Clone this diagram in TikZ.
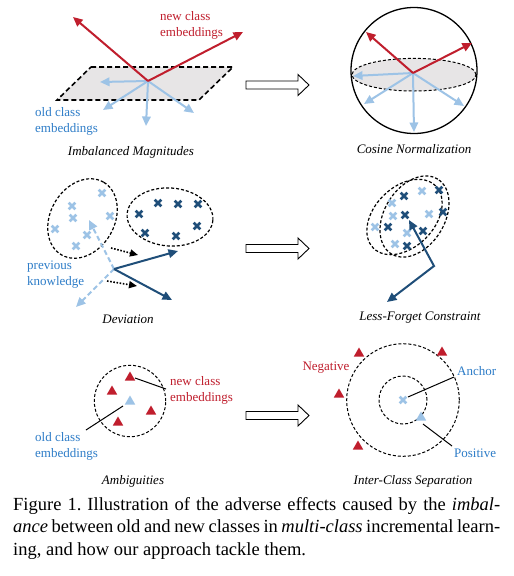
\documentclass[tikz,border=0pt]{standalone}
\usepackage{fontspec}
\setmainfont{Liberation Serif}
\usetikzlibrary{arrows.meta,shapes.geometric}
\definecolor{cred}{RGB}{192,30,45}
\definecolor{lblue}{RGB}{157,195,230}
\definecolor{tblue}{RGB}{46,125,200}
\definecolor{dblue}{RGB}{31,78,121}
\definecolor{pgray}{RGB}{231,229,230}
\tikzset{
  lbl/.style={font=\fontsize{13}{16}\selectfont, align=left, inner sep=0pt},
  ttl/.style={font=\fontsize{13}{16}\selectfont\itshape, inner sep=0pt},
  vec/.style={line width=2pt, -{Triangle[length=9.5pt,width=8.5pt]}},
  dvec/.style={line width=2pt, dash pattern=on 5pt off 3pt, -{Triangle[length=9.5pt,width=8.5pt]}},
  dotvec/.style={line width=1.6pt, dash pattern=on 1.6pt off 1.6pt, -{Triangle[length=8pt,width=7pt]}},
  dashbox/.style={dash pattern=on 3pt off 2pt, line width=1pt},
  tri/.style={regular polygon, regular polygon sides=3, minimum size=12pt, inner sep=0pt, draw=none},
  hollow/.style={draw=black, fill=white, line width=0.9pt},
  xx/.pic={\draw[line width=2.8pt] (-3.3pt,-3.3pt)--(3.3pt,3.3pt) (-3.3pt,3.3pt)--(3.3pt,-3.3pt);}
}
\begin{document}
\begin{tikzpicture}[x=1pt,y=-1pt]
\useasboundingbox (0,0) rectangle (514,576);
\fill[white] (0,0) rectangle (514,576);

% ---------- Panel 1 left: Imbalanced Magnitudes ----------
\filldraw[fill=pgray, line width=1.6pt, dash pattern=on 5pt off 3pt] (91,67) -- (233,67) -- (199,100) -- (57,100) -- cycle;
\coordinate (o1) at (148,81);
\coordinate (b1a) at (100,82);
\coordinate (b1b) at (103,110);
\coordinate (b1c) at (146,126);
\coordinate (b1d) at (194,113);
\coordinate (r1a) at (73,17);
\coordinate (r1b) at (243,32);
\foreach \t in {b1a,b1b,b1c,b1d} \draw[vec, lblue] (o1) -- (\t);
\foreach \t in {r1a,r1b} \draw[vec, cred] (o1) -- (\t);
\node[lbl, text=cred, anchor=west] (newA) at (160,25) {new class\\embeddings};
\node[lbl, text=tblue, anchor=west] (oldA) at (35,121) {old class\\embeddings};
\node[ttl] (t1) at (131,152) {Imbalanced Magnitudes};

% ---------- Panel 1 right: Cosine Normalization ----------
\filldraw[fill=pgray, dashbox] (414,74.7) ellipse [x radius=62pt, y radius=16.3pt];
\draw[line width=1.3pt] (414,70.5) circle [radius=63pt];
\coordinate (o2) at (413,73);
\coordinate (b2a) at (353,76);
\coordinate (b2b) at (364,104);
\coordinate (b2c) at (414,132);
\coordinate (b2d) at (464,106);
\coordinate (r2a) at (366,32);
\coordinate (r2b) at (472,43);
\foreach \t in {b2a,b2b,b2c,b2d} \draw[vec, lblue] (o2) -- (\t);
\foreach \t in {r2a,r2b} \draw[vec, cred] (o2) -- (\t);
\node[ttl] (t2) at (414,149) {Cosine Normalization};

% ---------- hollow arrows ----------
\foreach \c in {85,248.5,415.5}
  \draw[hollow] (246,\c-4) -- (298,\c-4) -- (298,\c-10.5) -- (309,\c) -- (298,\c+10.5) -- (298,\c+4) -- (246,\c+4) -- cycle;

% ---------- Panel 2 left: Deviation ----------
\draw[dashbox, line width=1.2pt, rotate around={60:(82.5,218.5)}] (82.5,218.5) ellipse [x radius=42pt, y radius=32pt];
\draw[dashbox, line width=1.2pt, rotate around={-4:(170,217)}] (170,217) ellipse [x radius=43pt, y radius=29pt];
\foreach \p in {(72,206),(102,193),(73,218),(110,216),(55,229),(87,235),(76,246)}
  \pic[lblue] at \p {xx};
\foreach \p in {(158,203),(178,204),(198,204),(139,214),(197,226),(145,233),(176,236)}
  \pic[dblue] at \p {xx};
\coordinate (o3) at (114,269);
\coordinate (l3a) at (89,220);
\coordinate (l3b) at (76,307);
\coordinate (d3a) at (178,251);
\coordinate (d3b) at (172,300);
\draw[dvec, lblue] (o3) -- (l3a);
\draw[dvec, lblue] (o3) -- (l3b);
\draw[vec, dblue] (o3) -- (d3a);
\draw[vec, dblue] (o3) -- (d3b);
\coordinate (p1s) at (111,248); \coordinate (p1e) at (138,255);
\coordinate (p2s) at (107,281); \coordinate (p2e) at (137,286);
\draw[dotvec] (p1s) -- (p1e);
\draw[dotvec] (p2s) -- (p2e);
\node[lbl, text=tblue, anchor=west] (prev) at (27,274.5) {previous\\knowledge};
\node[ttl] (t3) at (128,319) {Deviation};

% ---------- Panel 2 right: Less-Forget Constraint ----------
\draw[dashbox, line width=1.2pt, rotate around={45:(404.5,217)}] (404.5,217) ellipse [x radius=44pt, y radius=30pt];
\draw[dashbox, line width=1.2pt, rotate around={58:(414.5,216.5)}] (414.5,216.5) ellipse [x radius=44pt, y radius=30pt];
\foreach \p in {(422,191),(392,203),(393,216),(429,214),(375,227),(407,233),(395,244)}
  \pic[lblue] at \p {xx};
\foreach \p in {(439,190),(404,196),(443,212),(388,227),(423,231),(407,246)}
  \pic[dblue] at \p {xx};
\pic[dblue] at (405,215) {xx};
\coordinate (lfa) at (409,220);
\coordinate (lfm) at (434,266);
\coordinate (lfb) at (387,302);
\draw[dblue, line width=2pt, {Triangle[length=9.5pt,width=8.5pt]}-{Triangle[length=9.5pt,width=8.5pt]}] (lfa) -- (lfm) -- (lfb);
\node[ttl] (t4) at (420,318) {Less-Forget Constraint};

% ---------- Panel 3 left: Ambiguities ----------
\draw[dashbox] (130,401) circle [radius=35.7pt];
\node[tri, fill=cred] (ta1) at (130,377.5) {};
\node[tri, fill=cred] (ta2) at (112,391.5) {};
\node[tri, fill=cred] (ta3) at (151,411.5) {};
\node[tri, fill=cred] (ta4) at (118,422.5) {};
\node[tri, fill=lblue] (tb1) at (130,401.5) {};
\node[lbl, text=cred, anchor=west] (newB) at (170,390) {new class\\embeddings};
\node[lbl, text=tblue, anchor=west] (oldB) at (35,446.5) {old class\\embeddings};
\coordinate (ln1s) at (135,378); \coordinate (ln1e) at (166,389);
\coordinate (ln2s) at (123,406); \coordinate (ln2e) at (86,430);
\draw[line width=1pt] (ln1s) -- (ln1e);
\draw[line width=1pt] (ln2s) -- (ln2e);
\node[ttl] (t5) at (133,481) {Ambiguities};

% ---------- Panel 3 right: Inter-Class Separation ----------
\draw[dashbox] (403,400) circle [radius=56.3pt];
\draw[dashbox] (403,400) circle [radius=24pt];
\pic[lblue] at (403,400) {xx};
\coordinate (anc) at (403,400);
\node[tri, fill=lblue] (pos) at (421,417.5) {};
\node[tri, fill=cred] (n1) at (359,353.5) {};
\node[tri, fill=cred] (n2) at (442,352.5) {};
\node[tri, fill=cred] (n3) at (339,394.5) {};
\node[tri, fill=cred] (n4) at (358,446.5) {};
\node[lbl, text=cred] (negl) at (326,368) {Negative};
\node[lbl, text=tblue, anchor=west] (ancl) at (457,371) {Anchor};
\node[lbl, text=tblue, anchor=west] (posl) at (454,453) {Positive};
\coordinate (la1) at (408,397); \coordinate (la2) at (454,377);
\coordinate (lp1) at (423,424); \coordinate (lp2) at (452,446);
\draw[line width=1pt] (la1) -- (la2);
\draw[line width=1pt] (lp1) -- (lp2);
\node[ttl] (t6) at (413,481) {Inter-Class Separation};

% ---------- caption ----------
\node[anchor=north west, inner sep=0pt, text width=487pt, align=justify,
      font=\fontsize{18.5}{22.5}\selectfont\frenchspacing] (cap) at (13,497)
  {Figure 1. Illustration of the adverse effects caused by the \emph{imbal-}\linebreak
   \emph{ance} between old and new classes in \emph{multi-class} incremental learn-\linebreak
   ing, and how our approach tackle them.};
\end{tikzpicture}
\end{document}
